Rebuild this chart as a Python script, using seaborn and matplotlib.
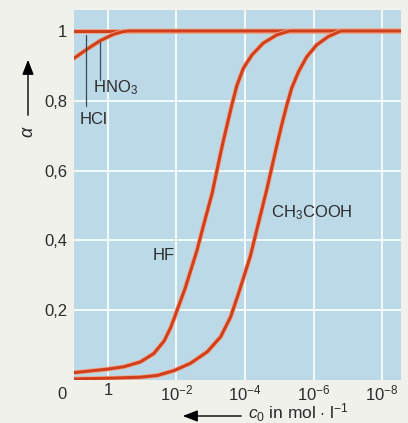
import numpy as np
import pandas as pd
import seaborn as sns
import matplotlib
matplotlib.use("Agg")
import matplotlib.pyplot as plt
import matplotlib.patheffects as pe

# x = -log10(c0), y = Dissoziationsgrad alpha
hcl_x = [-1.0, 8.6]
hcl_alpha = [1.0, 1.0]

hno3_x = [-1.0, -0.62, -0.23, 0.15, 0.44, 0.6, 8.6]
hno3_alpha = [0.921, 0.947, 0.972, 0.99, 0.998, 1.0, 1.0]

hf_x = [-1.0, -0.02, 0.47, 0.95, 1.34, 1.64, 1.83, 2.0, 2.25, 2.6, 2.78, 3.04,
        3.32, 3.47, 3.61, 3.76, 3.95, 4.2, 4.53, 4.93, 5.3, 8.6]
hf_alpha = [0.021, 0.031, 0.038, 0.052, 0.076, 0.112, 0.15, 0.195, 0.262,
            0.372, 0.44, 0.535, 0.665, 0.728, 0.786, 0.843, 0.893, 0.931,
            0.965, 0.989, 1.0, 1.0]

ch3cooh_x = [-1.0, 0.0, 0.95, 1.44, 1.93, 2.41, 2.9, 3.29, 3.58, 3.8, 4.15,
             4.39, 4.63, 4.93, 5.07, 5.22, 5.36, 5.56, 5.8, 6.09, 6.43, 6.8,
             8.6]
ch3cooh_alpha = [0.003, 0.005, 0.008, 0.013, 0.027, 0.048, 0.081, 0.124,
                 0.181, 0.245, 0.353, 0.449, 0.544, 0.673, 0.731, 0.788,
                 0.836, 0.883, 0.926, 0.96, 0.984, 1.0, 1.0]

x_ticks = [0, 2, 4, 6, 8]
x_labels = ["1", r"$10^{-2}$", r"$10^{-4}$", r"$10^{-6}$", r"$10^{-8}$"]
y_ticks = [0.2, 0.4, 0.6, 0.8, 1.0]
y_labels = ["0,2", "0,4", "0,6", "0,8", "1"]

sns.set_style("whitegrid", {"axes.facecolor": "#bcd9e8", "grid.color": "white"})
plt.rcParams["font.family"] = ["Liberation Sans", "DejaVu Sans"]
plt.rcParams["mathtext.fontset"] = "custom"
plt.rcParams["mathtext.rm"] = "Liberation Sans"
plt.rcParams["mathtext.it"] = "Liberation Sans:italic"

txt = "#2b2b2b"
red = "#d0401c"
fs = 12

fig = plt.figure(figsize=(4.08, 4.23), dpi=100, facecolor="#f1f1ec")
ax = fig.add_axes([74 / 408, 43 / 423, 327 / 408, 370 / 423])

halo = [pe.Stroke(linewidth=3.4, foreground="#f0a88c"), pe.Normal()]
curves = [(hcl_x, hcl_alpha), (hno3_x, hno3_alpha), (hf_x, hf_alpha),
          (ch3cooh_x, ch3cooh_alpha)]
for xs, ys in curves:
    sns.lineplot(x=xs, y=ys, ax=ax, color=red, linewidth=2.2,
                 estimator=None, sort=False, path_effects=halo, zorder=3)

ax.set_xlim(-0.99, 8.55)
ax.set_ylim(0, 1.06)
ax.set_xticks(x_ticks)
ax.set_xticklabels(x_labels)
ax.set_yticks(y_ticks)
ax.set_yticklabels(y_labels)
ax.grid(True, color="white", linewidth=1.2)
ax.tick_params(axis="both", length=0, labelsize=fs, colors=txt)
ax.tick_params(axis="x", pad=2.5)
ax.tick_params(axis="y", pad=5)
for s in ax.spines.values():
    s.set_visible(False)
ax.set_xlabel("")
ax.set_ylabel("")

# "0" links unten
ax.text(-0.037, -0.04, "0", transform=ax.transAxes, ha="center", va="center",
        fontsize=fs, color=txt)

# Hinweislinien fuer HCl und HNO3
ax.plot([-0.64, -0.64], [0.785, 0.989], color="#3a4a55", lw=0.9, zorder=4)
ax.plot([-0.23, -0.23], [0.86, 0.968], color="#3a4a55", lw=0.9, zorder=4)
ax.text(-0.44, 0.837, r"HNO$_3$", fontsize=fs, color=txt, va="center")
ax.text(-0.82, 0.745, "HCl", fontsize=fs, color=txt, va="center")
ax.text(1.31, 0.358, "HF", fontsize=fs, color=txt, va="center")
ax.text(4.76, 0.48, r"CH$_3$COOH", fontsize=fs, color=txt, va="center")

# Achsenbeschriftungen mit Pfeilen
ax.annotate("", xy=(28, 366), xytext=(28, 305), xycoords="figure pixels",
            textcoords="figure pixels",
            arrowprops=dict(arrowstyle="-|>,head_length=0.9,head_width=0.35",
                            color="black", lw=1.0))
fig.text(28 / 408, 291 / 423, "α", rotation=90, ha="center", va="center",
         fontsize=13, style="italic", color=txt)
ax.annotate("", xy=(180, 7), xytext=(244, 7), xycoords="figure pixels",
            textcoords="figure pixels",
            arrowprops=dict(arrowstyle="-|>,head_length=0.9,head_width=0.35",
                            color="black", lw=1.0))
fig.text(248 / 408, 4 / 423, r"$c_0$ in mol $\cdot$ l$^{-1}$", ha="left",
         va="baseline", fontsize=12.5, color=txt)

fig.savefig("out.png", dpi=100, facecolor=fig.get_facecolor())
